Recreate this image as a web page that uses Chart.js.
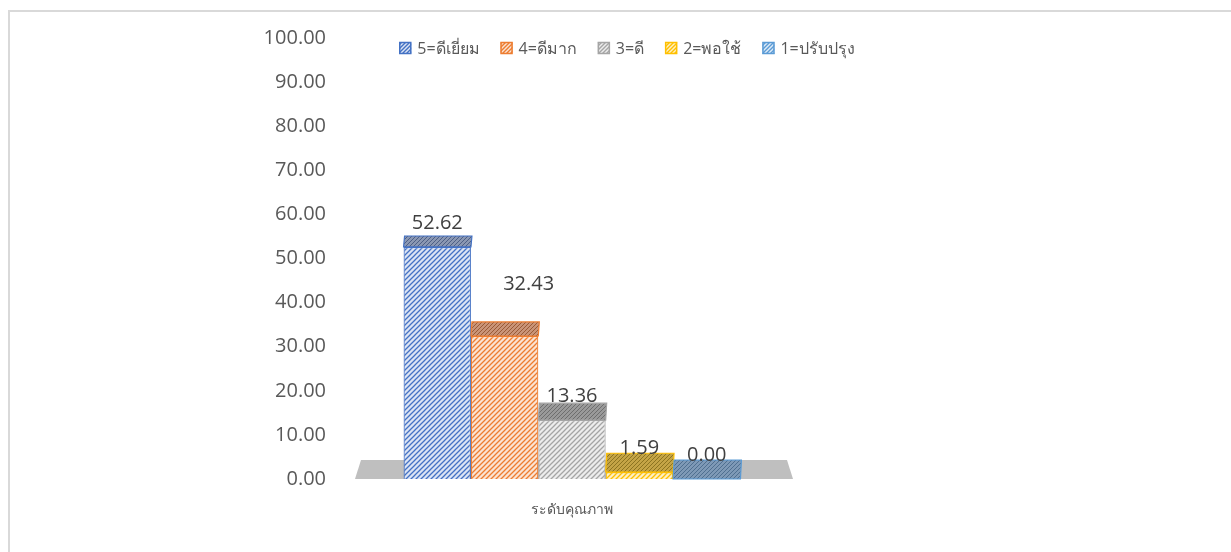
<!DOCTYPE html>
<html>
<head>
<meta charset="utf-8">
<script src="https://cdn.jsdelivr.net/npm/chart.js@4/dist/chart.umd.min.js"></script>
<style>
  html, body { margin: 0; padding: 0; background: #fff; overflow: hidden; }
  #frame { position: absolute; left: 8px; top: 10px; width: 1240px; height: 560px; border: 2px solid #D9D9D9; box-sizing: border-box; }
  #chart { position: absolute; left: 0; top: 0; }
</style>
</head>
<body>
<div id="frame"></div>
<canvas id="chart" width="1231" height="552"></canvas>
<script>
// data
const categories = ['ระดับคุณภาพ'];
const seriesNames = ['5=ดีเยี่ยม', '4=ดีมาก', '3=ดี', '2=พอใช้', '1=ปรับปรุง'];
const seriesValues = [52.62, 32.43, 13.36, 1.59, 0.00];
const yMin = 0;
const yMax = 100;
const yStep = 10;

// colours per series: line, light tint, dark top
const lineColors = ['#4472C4', '#ED7D31', '#A5A5A5', '#FFC000', '#5B9BD5'];
const tintColors = ['#DCE4F4', '#FBE3D3', '#EDEDED', '#FFF0C2', '#DEEBF7'];
const topColors = ['#8A97B2', '#C99478', '#9A9A9A', '#C4A446', '#7E99B6'];
const topStripes = ['#4D5F86', '#9A5A36', '#6E6E6E', '#8C7420', '#4F6F90'];

const FONT = '"Open Sans", "Noto Sans", "DejaVu Sans", sans-serif';

// small diagonal hatch used for the bar faces
function makeHatch(bg, fg, size, width) {
  const c = document.createElement('canvas');
  c.width = size;
  c.height = size;
  const g = c.getContext('2d');
  g.fillStyle = bg;
  g.fillRect(0, 0, size, size);
  g.strokeStyle = fg;
  g.lineWidth = width;
  g.beginPath();
  g.moveTo(-1, size + 1);
  g.lineTo(size + 1, -1);
  g.moveTo(-1, 1);
  g.lineTo(1, -1);
  g.moveTo(size - 1, size + 1);
  g.lineTo(size + 1, size - 1);
  g.stroke();
  return g.createPattern(c, 'repeat');
}

document.addEventListener('DOMContentLoaded', () => {
  const ctx = document.getElementById('chart').getContext('2d');

  const frontFills = lineColors.map((c, i) => makeHatch(tintColors[i], c, 5, 1.3));
  const topFills = topColors.map((c, i) => makeHatch(c, topStripes[i], 4, 1));

  // floor under the bars
  const floorPlugin = {
    id: 'floor',
    beforeDatasetsDraw(chart) {
      const { ctx, chartArea } = chart;
      const y0 = chart.scales.y.getPixelForValue(0);
      const g = ctx;
      g.save();
      g.fillStyle = '#BFBFBF';
      g.beginPath();
      g.moveTo(chartArea.left + 15, y0);
      g.lineTo(chartArea.right - 11, y0);
      g.lineTo(chartArea.right - 17, y0 - 19);
      g.lineTo(chartArea.left + 21, y0 - 19);
      g.closePath();
      g.fill();
      g.restore();
    }
  };

  // top faces (fake 3D) and value labels
  const topPlugin = {
    id: 'tops',
    afterDatasetsDraw(chart) {
      const g = chart.ctx;
      const y0 = chart.scales.y.getPixelForValue(0);
      chart.data.datasets.forEach((ds, i) => {
        const meta = chart.getDatasetMeta(i);
        meta.data.forEach((bar, j) => {
          const left = bar.x - bar.width / 2;
          const right = bar.x + bar.width / 2;
          const h = y0 - bar.y;
          const d = 19 - 8 * (h / 230);
          g.save();
          g.fillStyle = topFills[i];
          g.strokeStyle = lineColors[i];
          g.lineWidth = 1.2;
          g.beginPath();
          g.moveTo(left, bar.y);
          g.lineTo(right, bar.y);
          g.lineTo(right + 1, bar.y - d);
          g.lineTo(left + 1, bar.y - d);
          g.closePath();
          g.fill();
          g.stroke();

          const v = ds.data[j];
          const shift = ds.labelShift || { x: 0, y: 0 };
          g.fillStyle = '#404040';
          g.font = '20px ' + FONT;
          g.textAlign = 'center';
          g.textBaseline = 'middle';
          g.fillText(v.toFixed(2), bar.x + shift.x, bar.y - 24 + shift.y);
          g.restore();
        });
      });
    }
  };

  // legend drawn across the top of the plot
  const legendPlugin = {
    id: 'topLegend',
    afterDraw(chart) {
      const g = chart.ctx;
      g.save();
      g.font = '16px ' + FONT;
      g.textBaseline = 'middle';
      const box = 12, gapText = 6, gapItem = 21;
      const widths = chart.data.datasets.map(ds => box + gapText + g.measureText(ds.label).width);
      const total = widths.reduce((a, b) => a + b, 0) + gapItem * (widths.length - 1);
      let x = 627 - total / 2;
      const y = 48;
      chart.data.datasets.forEach((ds, i) => {
        g.fillStyle = makeHatch(tintColors[i], lineColors[i], 4, 1.4);
        g.fillRect(x, y - box / 2, box, box);
        g.strokeStyle = lineColors[i];
        g.lineWidth = 1.5;
        g.strokeRect(x + 0.5, y - box / 2 + 0.5, box - 1, box - 1);
        g.fillStyle = '#595959';
        g.textAlign = 'left';
        g.fillText(ds.label, x + box + gapText, y + 1);
        x += widths[i] + gapItem;
      });
      g.restore();
    }
  };

  const datasets = seriesNames.map((name, i) => ({
    label: name,
    data: [seriesValues[i]],
    backgroundColor: frontFills[i],
    borderColor: lineColors[i],
    borderWidth: 1.2,
    labelShift: i === 1 ? { x: 24, y: -28 } : { x: 0, y: 0 }
  }));

  new Chart(ctx, {
    type: 'bar',
    data: { labels: categories, datasets },
    plugins: [floorPlugin, topPlugin, legendPlugin],
    options: {
      responsive: false,
      animation: false,
      layout: { padding: { left: 250, right: 427, top: 38, bottom: 0 } },
      plugins: { legend: { display: false }, tooltip: { enabled: false } },
      datasets: { bar: { barPercentage: 1, categoryPercentage: 0.726 } },
      scales: {
        x: {
          grid: { display: false, drawTicks: false },
          border: { display: false },
          ticks: { color: '#595959', font: { family: FONT, size: 14 }, padding: 23 },
          afterFit(scale) { scale.height = 73; }
        },
        y: {
          min: yMin,
          max: yMax,
          grid: { display: false, drawTicks: false },
          border: { display: false },
          ticks: {
            stepSize: yStep,
            color: '#595959',
            font: { family: FONT, size: 20 },
            padding: 14,
            callback: v => Number(v).toFixed(2)
          },
          afterFit(scale) { scale.width = 90; }
        }
      }
    }
  });
});
</script>
</body>
</html>
